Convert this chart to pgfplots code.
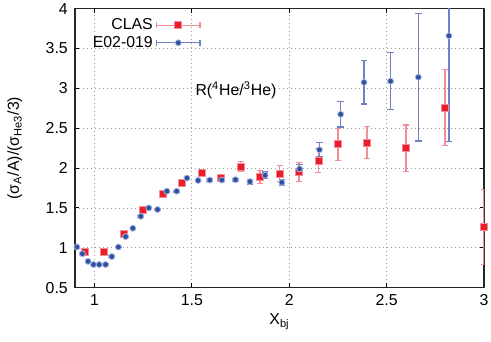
\documentclass[border=0pt]{standalone}
\usepackage{fontspec}
\setmainfont{Liberation Sans}
\usepackage{pgfplots}
\pgfplotsset{compat=1.18}
\usepackage{pgfplotstable}
\definecolor{clasred}{RGB}{234,30,42}
\definecolor{clasbar}{RGB}{242,140,150}
\definecolor{eblue}{RGB}{45,80,165}
\definecolor{ebar}{RGB}{110,130,195}

% CLAS: x, ratio, error
\pgfplotstableread{
x y e
0.95 0.95 0.02
1.05 0.95 0.02
1.15 1.18 0.02
1.25 1.475 0.02
1.35 1.67 0.02
1.45 1.81 0.02
1.55 1.94 0.03
1.65 1.88 0.04
1.75 2.02 0.06
1.85 1.89 0.08
1.95 1.93 0.10
2.05 1.95 0.115
2.15 2.095 0.15
2.25 2.30 0.20
2.40 2.32 0.20
2.60 2.25 0.29
2.80 2.76 0.48
3.00 1.26 0.47
}\clas

% E02-019
\pgfplotstableread{
x y e
0.91 1.01 0.01
0.938 0.925 0.01
0.967 0.83 0.01
0.995 0.79 0.01
1.024 0.79 0.01
1.057 0.79 0.01
1.089 0.89 0.01
1.123 1.01 0.01
1.16 1.14 0.01
1.197 1.245 0.01
1.238 1.395 0.01
1.279 1.50 0.01
1.324 1.48 0.01
1.372 1.71 0.01
1.422 1.71 0.01
1.475 1.875 0.01
1.532 1.845 0.01
1.592 1.85 0.015
1.654 1.85 0.02
1.724 1.854 0.02
1.798 1.83 0.03
1.876 1.91 0.04
1.962 1.82 0.04
2.053 1.99 0.06
2.155 2.23 0.09
2.264 2.675 0.16
2.384 3.075 0.27
2.52 3.09 0.36
2.663 3.14 0.80
2.82 3.66 1.33
}\eoz

\begin{document}
\fontsize{9.5}{11}\selectfont
\begin{tikzpicture}
\begin{axis}[
  scale only axis, width=245.4pt, height=167.4pt,
  xmin=0.9, xmax=3, ymin=0.5, ymax=4,
  xtick={1,1.5,2,2.5,3}, ytick={0.5,1,...,4},
  /pgf/number format/assume math mode=true,
  tick align=inside, major tick length=2.6pt,
  tick style={black, line width=0.6pt},
  axis line style={black!85, line width=0.9pt},
  grid=major, major grid style={gray!80, dotted, line width=0.5pt},
  ticklabel style={font=\fontsize{9.5}{11}\selectfont},
  xticklabel style={yshift=-1pt},
  yticklabel style={xshift=-1pt},
  xlabel={X\textsubscript{bj}},
  ylabel={(σ\textsubscript{A}/A)/(σ\textsubscript{He3}/3)},
  label style={font=\fontsize{9.5}{11}\selectfont},
  xlabel style={at={(axis description cs:0.5,-0.122)}, anchor=center},
  ylabel style={at={(axis description cs:-0.147,0.5)}, anchor=center, rotate=0},
  legend style={at={(rel axis cs:0.32,0.99)}, anchor=north east, draw=none, fill=none,
    font=\fontsize{9.5}{11}\selectfont, row sep=-1.5pt},
  legend plot pos=right, legend cell align=right,
]
\addplot[only marks, mark=square*, mark size=2.1pt,
  mark options={fill=clasred, draw=clasbar, line width=0.5pt},
  legend image code/.code={
    \draw[clasbar, line width=0.7pt] (0pt,0pt) -- (26pt,0pt)
      (0pt,-1.8pt) -- (0pt,1.8pt) (26pt,-1.8pt) -- (26pt,1.8pt);
    \path plot[mark=square*, mark size=2.1pt, mark options={fill=clasred, draw=clasbar, line width=0.5pt}] coordinates {(13pt,0pt)};
  },
  error bars/.cd, y dir=both, y explicit,
  error bar style={clasbar, line width=1.1pt},
  error mark options={rotate=90, clasbar, line width=0.7pt, mark size=1.8pt},
  ] table[x=x, y=y, y error=e] {\clas};
\addlegendentry{CLAS}
\addplot[only marks, mark=*, mark size=1.8pt,
  mark options={fill=eblue, draw=ebar!60, line width=0.5pt},
  legend image code/.code={
    \draw[ebar, line width=0.7pt] (0pt,0pt) -- (26pt,0pt)
      (0pt,-1.8pt) -- (0pt,1.8pt) (26pt,-1.8pt) -- (26pt,1.8pt);
    \path plot[mark=*, mark size=1.8pt, mark options={fill=eblue, draw=ebar!60, line width=0.5pt}] coordinates {(13pt,0pt)};
  },
  error bars/.cd, y dir=both, y explicit,
  error bar style={ebar, line width=0.7pt},
  error mark options={rotate=90, ebar, line width=0.7pt, mark size=2pt},
  ] table[x=x, y=y, y error=e] {\eoz};
\addlegendentry{E02-019}
\node[anchor=west] at (axis cs:1.49,2.98) {R(\textsuperscript{4}He/\textsuperscript{3}He)};
\end{axis}
\pgfresetboundingbox
\path (current axis.south west) ++(-45pt,-32.4pt) coordinate (bbA);
\path (current axis.north east) ++(4.2pt,5.2pt) coordinate (bbB);
\path[use as bounding box] (bbA) rectangle (bbB);
\end{tikzpicture}
\end{document}
